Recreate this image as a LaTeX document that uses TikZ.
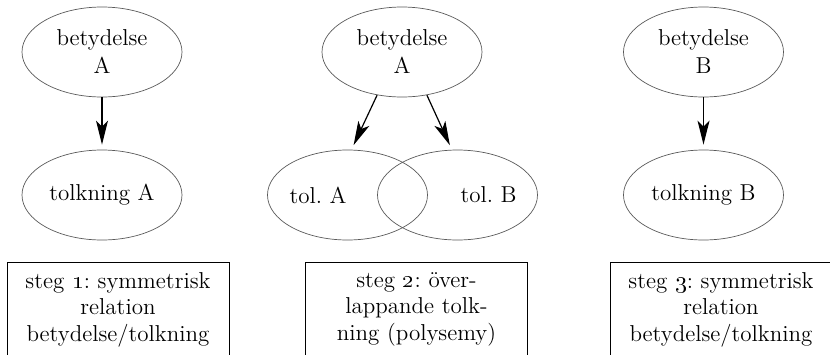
\documentclass[tikz,border=0pt]{standalone}
\usetikzlibrary{shapes.geometric,arrows.meta}
\frenchspacing
\begin{document}
\begin{tikzpicture}[x=0.5pt, y=-0.5pt,
		every node/.style={font=\fontsize{11.5}{14}\selectfont},
		sense/.style={ellipse, draw=black!65, line width=.35pt, minimum width=80pt, minimum height=45pt, inner sep=0, align=center},
		stepbox/.style={draw, line width=.5pt, text width=104pt, align=center, anchor=north, inner xsep=3.5pt, inner ysep=5pt, text depth=40pt, font=\fontsize{11.5}{13.25}\selectfont},
		link/.style={-{Stealth[length=12pt, width=6pt, inset=3pt]}, line width=.6pt, shorten >=2.5pt}]
		\useasboundingbox (0, 0) rectangle (830, 354);
		\clip (0, 0) rectangle (830, 354);

		% steg 1
		\node[sense] (b1) at (102, 52) {betydelse\\A};
		\node[sense] (t1) at (102, 195) {tolkning A};
		\draw[link] (b1) -- (t1);
		\node[stepbox] (s1) at (118, 262) {steg \oldstylenums{1}: symmetrisk\\relation\\betydelse/tolkning};

		% steg 2
		\node[sense] (b2) at (402, 52) {betydelse\\A};
		\node[sense] (ta) at (347.5, 195) {};
		\node[sense] (tb) at (457.5, 195) {};
		\node (la) at (318, 195) {tol.~A};
		\node (lb) at (488.5, 195) {tol.~B};
		\draw[link] (b2.240) -- (ta.85);
		\draw[link] (b2.300) -- (tb.97);
		\node[stepbox] (s2) at (416.5, 262) {steg \oldstylenums{2}: över-\\lappande tolk-\\ning (polysemy)};

		% steg 3
		\node[sense] (b3) at (703.5, 52) {betydelse\\B};
		\node[sense] (t3) at (703.5, 195) {tolkning B};
		\draw[link] (b3) -- (t3);
		\node[stepbox] (s3) at (721, 262) {steg \oldstylenums{3}: symmetrisk\\relation\\betydelse/tolkning};
	\end{tikzpicture}
\end{document}
